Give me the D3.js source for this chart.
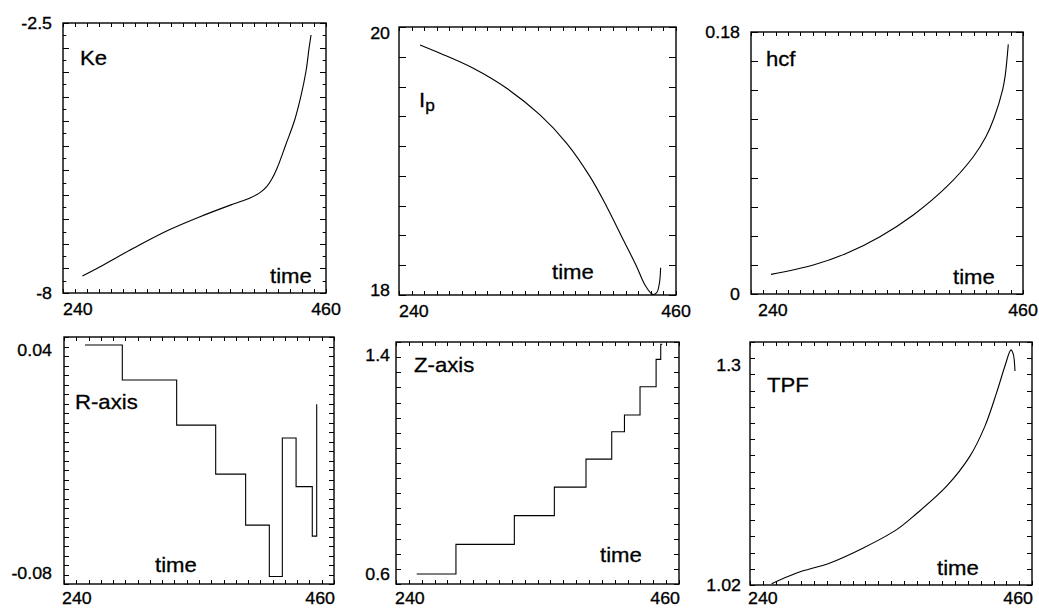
<!DOCTYPE html>
<html>
<head>
<meta charset="utf-8">
<script src="https://cdn.jsdelivr.net/npm/d3@7"></script>
<style>
  html, body { margin: 0; padding: 0; background: #fff; }
  svg { display: block; }
  text { font-family: "Liberation Sans", Arial, Helvetica, sans-serif; fill: #000; stroke: #000; stroke-width: 0.3px; }
</style>
</head>
<body>
<svg id="chart" width="1039" height="609"></svg>
<script>
// ---- shared time axis ----
const timeRange = [240, 460];
const timeTickLabels = ["240", "460"];

// ---- Ke ----
const keTime  = [256.2, 271.0, 298.8, 326.7, 354.6, 382.5, 396.4, 404.8, 410.4, 414.6, 418.7, 426.5, 433.8, 439.1, 443.3, 446.0, 447.5];
const keValue = [-7.654, -7.464, -7.090, -6.737, -6.446, -6.187, -6.065, -5.956, -5.834, -5.684, -5.481, -4.971, -4.476, -3.980, -3.478, -2.982, -2.744];
const keTicks = [-8, -2.5];
const keTickLabels = ["-8", "-2.5"];

// ---- plasma current I_p ----
const ipTime  = [256.7, 272.6, 299.0, 325.5, 352.0, 373.2, 391.7, 405.0, 418.2, 428.8, 435.4, 441.5, 444.7, 446.8, 447.8];
const ipValue = [19.910, 19.845, 19.728, 19.572, 19.364, 19.143, 18.883, 18.649, 18.389, 18.181, 18.038, 17.965, 17.978, 18.051, 18.173];
const ipTicks = [18, 20];
const ipTickLabels = ["18", "20"];

// ---- hcf ----
const hcfTime  = [256.2, 290.4, 317.4, 344.3, 371.3, 398.3, 419.8, 430.0, 436.5, 443.6, 445.6, 448.1];
const hcfValue = [0.0135, 0.0199, 0.0280, 0.0394, 0.0543, 0.0737, 0.0943, 0.1080, 0.1207, 0.1406, 0.1500, 0.1715];
const hcfTicks = [0, 0.18];
const hcfTickLabels = ["0", "0.18"];

// ---- R-axis (piecewise constant) ----
const rTime  = [257.1, 287.5, 331.8, 363.6, 388.0, 407.3, 417.9, 429.1, 442.3, 445.9];
const rValue = [0.0426, 0.0238, -0.0004, -0.0267, -0.0541, -0.0817, -0.0073, -0.0334, -0.0600, 0.0108];
const rTicks = [-0.08, 0.04];
const rTickLabels = ["-0.08", "0.04"];

// ---- Z-axis (piecewise constant) ----
const zTime  = [256.1, 286.6, 332.0, 363.1, 387.7, 407.7, 417.6, 429.7, 442.2, 445.8, 447.0];
const zValue = [0.600, 0.708, 0.813, 0.917, 1.019, 1.119, 1.180, 1.283, 1.383, 1.438, 1.438];
const zTicks = [0.6, 1.4];
const zTickLabels = ["0.6", "1.4"];

// ---- TPF ----
const tpfTime  = [256.9, 276.4, 302.4, 328.4, 354.4, 370.0, 393.4, 411.6, 423.3, 432.4, 438.9, 443.6, 445.4, 446.7];
const tpfValue = [1.0213, 1.0349, 1.0477, 1.0668, 1.0901, 1.1106, 1.1454, 1.1837, 1.2219, 1.2645, 1.2985, 1.3190, 1.3135, 1.2921];
const tpfTicks = [1.02, 1.3];
const tpfTickLabels = ["1.02", "1.3"];

// ---- panel layout ----
const panels = [
  { frame: [63, 23, 326, 293],  yDomain: [-8, -2.5],         yDiv: 22, yMajorEvery: 2, tickLen: 6,
    t: keTime, v: keValue, ticks: keTicks, tickLabels: keTickLabels, curve: d3.curveCatmullRom,
    name: "Ke", nameAt: [80, 65], timeAt: [270, 283], labelGap: 11, endAnchor: "middle", startDx: 0 },
  { frame: [399, 27, 676, 295], yDomain: [17.96, 20.05],     yDiv: 9,  yMajorEvery: 1, tickLen: 7,
    t: ipTime, v: ipValue, ticks: ipTicks, tickLabels: ipTickLabels, curve: d3.curveCatmullRom,
    name: "I", sub: "p", nameAt: [419, 107], timeAt: [552, 279], labelGap: 9, endAnchor: "middle", startDx: 0 },
  { frame: [751, 32, 1023, 294], yDomain: [0, 0.18],         yDiv: 9,  yMajorEvery: 1, tickLen: 7,
    t: hcfTime, v: hcfValue, ticks: hcfTicks, tickLabels: hcfTickLabels, curve: d3.curveCatmullRom,
    name: "hcf", nameAt: [766, 66], timeAt: [953, 284], labelGap: 11, endAnchor: "middle", startDx: 7 },
  { frame: [64, 337, 334, 584], yDomain: [-0.0857, 0.0469],  yDiv: 26, yMajorEvery: 1, tickLen: 5,
    t: rTime, v: rValue, ticks: rTicks, tickLabels: rTickLabels, curve: d3.curveStepAfter,
    name: "R-axis", nameAt: [75, 409], timeAt: [155, 572], labelGap: 12, endAnchor: "end", startDx: -2 },
  { frame: [396, 342, 679, 584], yDomain: [0.5635, 1.4463],  yDiv: 16, yMajorEvery: 1, tickLen: 5,
    t: zTime, v: zValue, ticks: zTicks, tickLabels: zTickLabels, curve: d3.curveStepAfter,
    name: "Z-axis", nameAt: [414, 372], timeAt: [600, 562], labelGap: 6, endAnchor: "end", startDx: -1 },
  { frame: [750, 342, 1032, 585], yDomain: [1.0196, 1.329],  yDiv: 15, yMajorEvery: 1, tickLen: 5,
    t: tpfTime, v: tpfValue, ticks: tpfTicks, tickLabels: tpfTickLabels, curve: d3.curveCatmullRom,
    name: "TPF", nameAt: [767, 392], timeAt: [937, 575], labelGap: 9, endAnchor: "end", startDx: -2 }
];

const svg = d3.select("#chart");
const TICK_FONT = 16.5, NAME_FONT = 20.5, SX = 1.08;

// text helper with slight horizontal stretch of the glyphs
function label(g, x, y, str, size, anchor) {
  return g.append("text")
    .attr("transform", `translate(${x},${y}) scale(${SX},1)`)
    .attr("text-anchor", anchor || "start")
    .style("font-size", size + "px")
    .text(str);
}

panels.forEach(p => {
  const [x0, y0, x1, y1] = p.frame;
  const x = d3.scaleLinear().domain(timeRange).range([x0, x1]);
  const y = d3.scaleLinear().domain(p.yDomain).range([y1, y0]);
  const g = svg.append("g");

  // tick marks on all four sides, pointing inward
  const xt = d3.range(timeRange[0], timeRange[1] + 0.001, 10);
  const tg = g.append("g").attr("stroke", "#000").attr("stroke-width", 1);
  xt.forEach(t => {
    const px = Math.round(x(t)) + 0.5;
    tg.append("line").attr("x1", px).attr("x2", px).attr("y1", y1).attr("y2", y1 - 4);
    tg.append("line").attr("x1", px).attr("x2", px).attr("y1", y0).attr("y2", y0 + 4);
  });
  d3.range(p.yDiv + 1).forEach(i => {
    const val = p.yDomain[0] + i * (p.yDomain[1] - p.yDomain[0]) / p.yDiv;
    const py = Math.round(y(val)) + 0.5;
    const len = (i % p.yMajorEvery === 0) ? p.tickLen : p.tickLen * 0.55;
    tg.append("line").attr("x1", x0).attr("x2", x0 + len).attr("y1", py).attr("y2", py);
    tg.append("line").attr("x1", x1).attr("x2", x1 - len).attr("y1", py).attr("y2", py);
  });

  // frame
  g.append("rect")
    .attr("x", x0).attr("y", y0).attr("width", x1 - x0).attr("height", y1 - y0)
    .attr("fill", "none").attr("stroke", "#000").attr("stroke-width", 1.4);

  // data curve
  const pts = p.t.map((t, i) => [t, p.v[i]]);
  g.append("path")
    .datum(pts)
    .attr("fill", "none").attr("stroke", "#000").attr("stroke-width", 1.1)
    .attr("d", d3.line().x(d => x(d[0])).y(d => y(d[1])).curve(p.curve));

  // y tick labels
  p.ticks.forEach((val, i) => {
    label(g, x0 - p.labelGap, y(val) + 6, p.tickLabels[i], TICK_FONT, "end");
  });

  // x tick labels
  const lblY = Math.min(y1 + 22, 604);
  label(g, x(timeRange[0]) + p.startDx, lblY, timeTickLabels[0], TICK_FONT, "start");
  label(g, x(timeRange[1]) + (p.endAnchor === "end" ? 1 : 0), lblY, timeTickLabels[1], TICK_FONT, p.endAnchor);

  // panel name and "time" caption
  const nm = label(g, p.nameAt[0], p.nameAt[1], p.name, NAME_FONT, "start");
  if (p.sub) {
    nm.append("tspan").attr("dy", 4).style("font-size", "16px").text(p.sub);
  }
  label(g, p.timeAt[0], p.timeAt[1], "time", NAME_FONT, "start");
});
</script>
</body>
</html>
